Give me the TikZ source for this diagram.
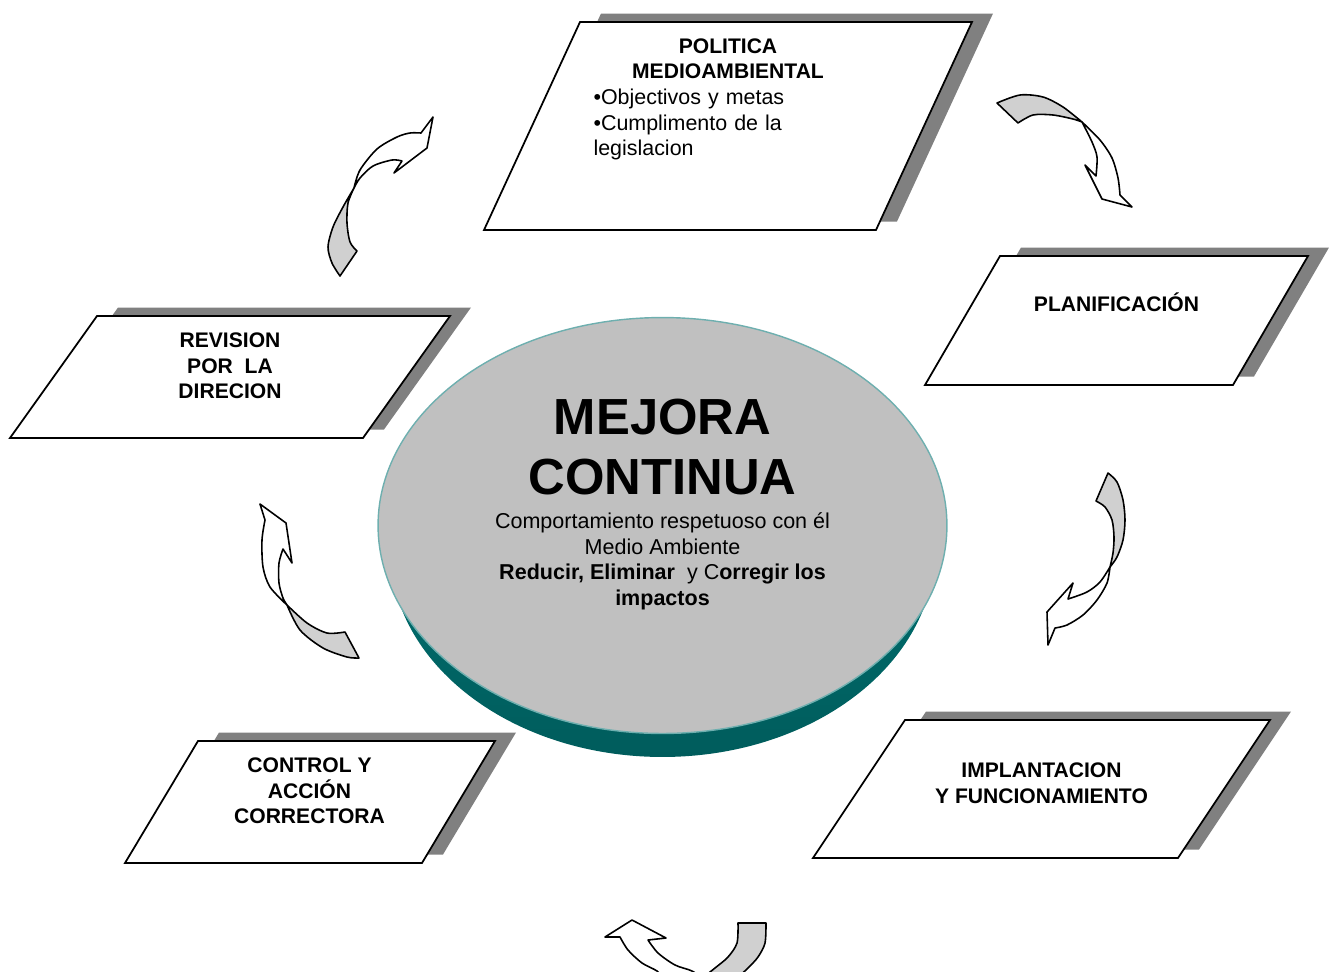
\documentclass[tikz,border=0pt]{standalone}
\usepackage{fontspec}
\setmainfont{Liberation Sans}
\usepackage{tikz}
\usetikzlibrary{positioning, shapes.geometric, shadows}
\definecolor{diskgray}{RGB}{192,192,192}
\definecolor{diskline}{RGB}{110,175,175}
\definecolor{rimlight}{RGB}{0,128,128}
\definecolor{rimdark}{RGB}{0,92,92}
\definecolor{foldgray}{RGB}{208,208,208}
\definecolor{shadowgray}{RGB}{128,128,128}

\begin{document}
\begin{tikzpicture}[x=0.02cm, y=-0.02cm]
	\tikzstyle{box} = [draw=black, line width=1pt, fill=white, line join=miter, 
	general shadow={fill=shadowgray, shadow xshift=0.42cm, shadow yshift=0.17cm}]
	\tikzstyle{lbl} = [font=\fontsize{12}{14.6}\selectfont\bfseries, 
	align=center, inner sep=0pt, anchor=north]
	\tikzstyle{front} = [draw=black, line width=0.9pt, line join=round, fill=white]
	\tikzstyle{fold} = [front, fill=foldgray]
	\clip (0,0) rectangle (1329,971);
	% central disk
	\node (rim) [ellipse, minimum width=10.9cm, minimum height=8.32cm, 
	top color=rimlight, bottom color=rimdark] at (662.5,549) {};
	\node (mejora) [ellipse, minimum width=11.38cm, minimum height=8.32cm, 
	fill=diskgray, draw=diskline, line width=0.8pt] at (662.5,525.5) {};
	\node (title) [font=\fontsize{28.9}{34.1}\selectfont\bfseries, align=center, 
	inner sep=0pt, below=1.63cm of mejora.north] {MEJORA\\CONTINUA};
	\node (subtitle) [font=\fontsize{12.25}{14.6}\selectfont, align=center, 
	inner sep=0pt, below=0.35cm of title] {Comportamiento respetuoso con él\\
	Medio Ambiente\\ \textbf{Reducir, Eliminar}\ \ y C\textbf{orregir los}\\
	\textbf{impactos}};
	% boxes
	\draw[box] (484,230) -- (580,22) -- (972,22) -- (876,230) -- cycle;
	\draw[box] (925,385) -- (1000,256) -- (1308,256) -- (1233,385) -- cycle;
	\draw[box] (10,438) -- (97,316) -- (450,316) -- (363,438) -- cycle;
	\draw[box] (125,863) -- (198,741) -- (495,741) -- (422,863) -- cycle;
	\draw[box] (813,858) -- (905,720) -- (1270,720) -- (1178,858) -- cycle;
	\node (politica) [lbl, text width=5.38cm, align=left] at (728,38) {\centering 
	POLITICA\\ MEDIOAMBIENTAL\par\raggedright\mdseries\fontsize{12.2}{14.6}\selectfont 
	•Objectivos y metas\\ •Cumplimento de la\\ legislacion};
	\node (planificacion) [lbl] at (1116.5,292) {PLANIFICACIÓN};
	\node (revision) [lbl] at (230,332.5) {REVISION\\ POR\ \ LA\\ DIRECION};
	\node (control) [lbl] at (309.5,757.5) {CONTROL Y\\ ACCIÓN\\ CORRECTORA};
	\node (implantacion) [lbl] at (1041.5,762.5) {IMPLANTACION\\ Y FUNCIONAMIENTO};
	% curved arrows
	\filldraw[fold] plot[smooth] coordinates {(354,188) (343,207) (333,227) (328,247) (332,263) (340,276)}
	-- (357,251) -- plot[smooth] coordinates {(357,251) (350,242) (347,223) (348,203) (354,188)} -- cycle;
	\filldraw[front] plot[smooth] coordinates {(354,188) (360,170) (377,149) (397,137) (410,133) (421,133)}
	-- (433,117) -- (427,148) -- (394,173) -- (402,161)
	-- plot[smooth] coordinates {(402,161) (392,160) (373,166) (360,178) (354,188)} -- cycle;
	\filldraw[fold] plot[smooth] coordinates {(997,103) (1020,95) (1043,97) (1063,107) (1082,122)}
	-- plot[smooth] coordinates {(1082,122) (1073,119) (1053,115) (1033,115) (1018,123)} -- cycle;
	\filldraw[front] plot[smooth] coordinates {(1082,122) (1100,140) (1112,158) (1118,178) (1120,195)}
	-- (1132,207) -- (1102,199) -- (1085,165) -- (1096,176)
	-- plot[smooth] coordinates {(1096,176) (1097,157) (1092,142) (1082,122)} -- cycle;
	\filldraw[fold] plot[smooth] coordinates {(1108,473) (1117,482) (1123,500) (1125,520) (1123,540) (1117,557) (1110,567)}
	-- plot[smooth] coordinates {(1110,567) (1113,553) (1114,537) (1112,520) (1105,507) (1096,501)} -- cycle;
	\filldraw[front] plot[smooth] coordinates {(1110,567) (1107,583) (1097,600) (1083,615) (1067,625) (1055,628)}
	-- (1048,645) -- (1047,612) -- (1073,583) -- (1068,599)
	-- plot[smooth] coordinates {(1068,599) (1087,592) (1100,582) (1110,567)} -- cycle;
	\filldraw[fold] plot[smooth] coordinates {(287,605) (307,623) (327,633) (345,632)}
	-- (359,658) -- plot[smooth] coordinates {(359,658) (347,657) (323,648) (300,630) (287,605)} -- cycle;
	\filldraw[front] plot[smooth] coordinates {(287,605) (270,587) (263,567) (262,540) (265,520)}
	-- (260,504) -- (286,523) -- (292,563) -- (283,549)
	-- plot[smooth] coordinates {(283,549) (279,563) (279,583) (283,598) (287,605)} -- cycle;
	\filldraw[fold] (738,923) -- (766,923) -- plot[smooth] coordinates {(766,923) (765,943) (758,957) (748,968) (735,980)}
	-- plot[smooth] coordinates {(700,980) (715,968) (728,957) (737,943) (738,923)} -- cycle;
	\filldraw[front] (620,937) -- (605,937) -- (632,920) -- (666,938) -- (648,940)
	-- plot[smooth] coordinates {(648,940) (658,953) (675,965) (692,971) (705,980)}
	-- plot[smooth] coordinates {(665,980) (657,971) (642,963) (628,950) (620,937)} -- cycle;
\end{tikzpicture}
\end{document}
